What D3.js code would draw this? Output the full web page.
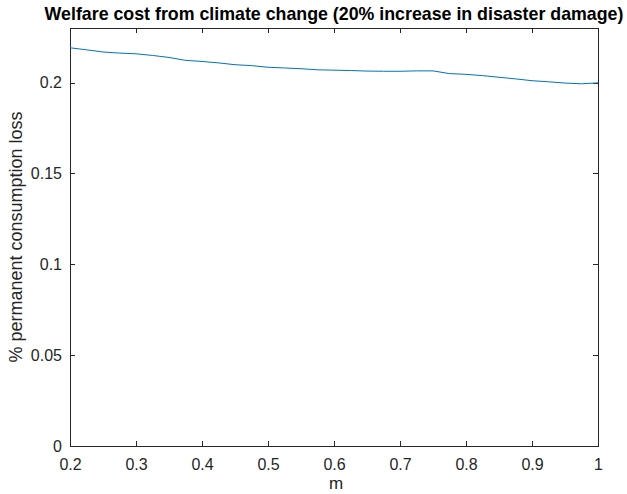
<!DOCTYPE html>
<html>
<head>
<meta charset="utf-8">
<script src="https://cdn.jsdelivr.net/npm/d3@7"></script>
<style>
  html, body { margin: 0; padding: 0; background: #fff; }
  text { font-family: "Liberation Sans", Arial, Helvetica, sans-serif; fill: #262626; }
</style>
</head>
<body>
<svg id="chart" width="627" height="494"></svg>
<script>
// m grid (x) and welfare cost values (y)
const mValues = [0.200, 0.225, 0.250, 0.275, 0.300, 0.325, 0.350, 0.375, 0.400, 0.425,
                 0.450, 0.475, 0.500, 0.525, 0.550, 0.575, 0.600, 0.625, 0.650, 0.675,
                 0.700, 0.725, 0.750, 0.775, 0.800, 0.825, 0.850, 0.875, 0.900, 0.925,
                 0.950, 0.975, 1.000];
const lossValues = [0.2191, 0.2180, 0.2168, 0.2162, 0.2158, 0.2149, 0.2138, 0.2122, 0.2116, 0.2108,
                    0.2098, 0.2093, 0.2084, 0.2080, 0.2076, 0.2070, 0.2068, 0.2066, 0.2063, 0.2062,
                    0.2062, 0.2064, 0.2064, 0.2049, 0.2045, 0.2038, 0.2029, 0.2020, 0.2010, 0.2004,
                    0.1997, 0.1993, 0.1998];
const xTicks = [0.2, 0.3, 0.4, 0.5, 0.6, 0.7, 0.8, 0.9, 1];
const xTickLabels = ["0.2", "0.3", "0.4", "0.5", "0.6", "0.7", "0.8", "0.9", "1"];
const yTicks = [0, 0.05, 0.1, 0.15, 0.2];
const yTickLabels = ["0", "0.05", "0.1", "0.15", "0.2"];
const titleText = "Welfare cost from climate change (20% increase in disaster damage)";
const xLabel = "m";
const yLabel = "% permanent consumption loss";

const svg = d3.select("#chart");
const plot = { left: 70, right: 598, top: 28, bottom: 446 };
const axisColor = "#262626";

const x = d3.scaleLinear().domain([0.2, 1]).range([plot.left, plot.right]);
const y = d3.scaleLinear().domain([0, 0.23]).range([plot.bottom, plot.top]);

const tickLen = 5;

// bottom axis
const gx = svg.append("g").attr("transform", `translate(0,${plot.bottom})`)
  .call(d3.axisBottom(x).tickValues(xTicks).tickFormat((d, i) => xTickLabels[i])
        .tickSizeInner(-tickLen).tickSizeOuter(0).tickPadding(13));
// top axis (box)
const gxt = svg.append("g").attr("transform", `translate(0,${plot.top})`)
  .call(d3.axisTop(x).tickValues(xTicks).tickFormat("").tickSizeInner(-tickLen).tickSizeOuter(0));
// left axis
const gy = svg.append("g").attr("transform", `translate(${plot.left},0)`)
  .call(d3.axisLeft(y).tickValues(yTicks).tickFormat((d, i) => yTickLabels[i])
        .tickSizeInner(-tickLen).tickSizeOuter(0).tickPadding(8));
// right axis (box)
const gyr = svg.append("g").attr("transform", `translate(${plot.right},0)`)
  .call(d3.axisRight(y).tickValues(yTicks).tickFormat("").tickSizeInner(-tickLen).tickSizeOuter(0));

[gx, gxt, gy, gyr].forEach(g => {
  g.selectAll(".domain").attr("stroke", axisColor).attr("stroke-width", 1).attr("shape-rendering", "crispEdges");
  g.selectAll(".tick line").attr("stroke", axisColor).attr("stroke-width", 1).attr("shape-rendering", "crispEdges");
  g.selectAll(".tick text").attr("fill", axisColor).style("font-size", "16px")
    .style("font-family", '"Liberation Sans", Arial, sans-serif');
});
// keep the box edges spanning the full plot area
gy.select(".domain").attr("d", `M0,${plot.top}V${plot.bottom}`);
gyr.select(".domain").attr("d", `M0,${plot.top}V${plot.bottom}`);

// data line
const line = d3.line().x((d, i) => x(mValues[i])).y(d => y(d));
svg.append("path")
  .datum(lossValues)
  .attr("fill", "none")
  .attr("stroke", "#0072BD")
  .attr("stroke-width", 1)
  .attr("d", line);

// title
svg.append("text")
  .attr("x", (plot.left + plot.right) / 2)
  .attr("y", 20)
  .attr("text-anchor", "middle")
  .style("font-size", "17.8px")
  .style("font-weight", "bold")
  .style("fill", "#000")
  .text(titleText);

// x label
svg.append("text")
  .attr("x", (plot.left + plot.right) / 2 + 2)
  .attr("y", 489)
  .attr("text-anchor", "middle")
  .style("font-size", "17px")
  .text(xLabel);

// y label
svg.append("text")
  .attr("transform", `translate(22,${(plot.top + plot.bottom) / 2}) rotate(-90)`)
  .attr("text-anchor", "middle")
  .style("font-size", "18px")
  .text(yLabel);
</script>
</body>
</html>
